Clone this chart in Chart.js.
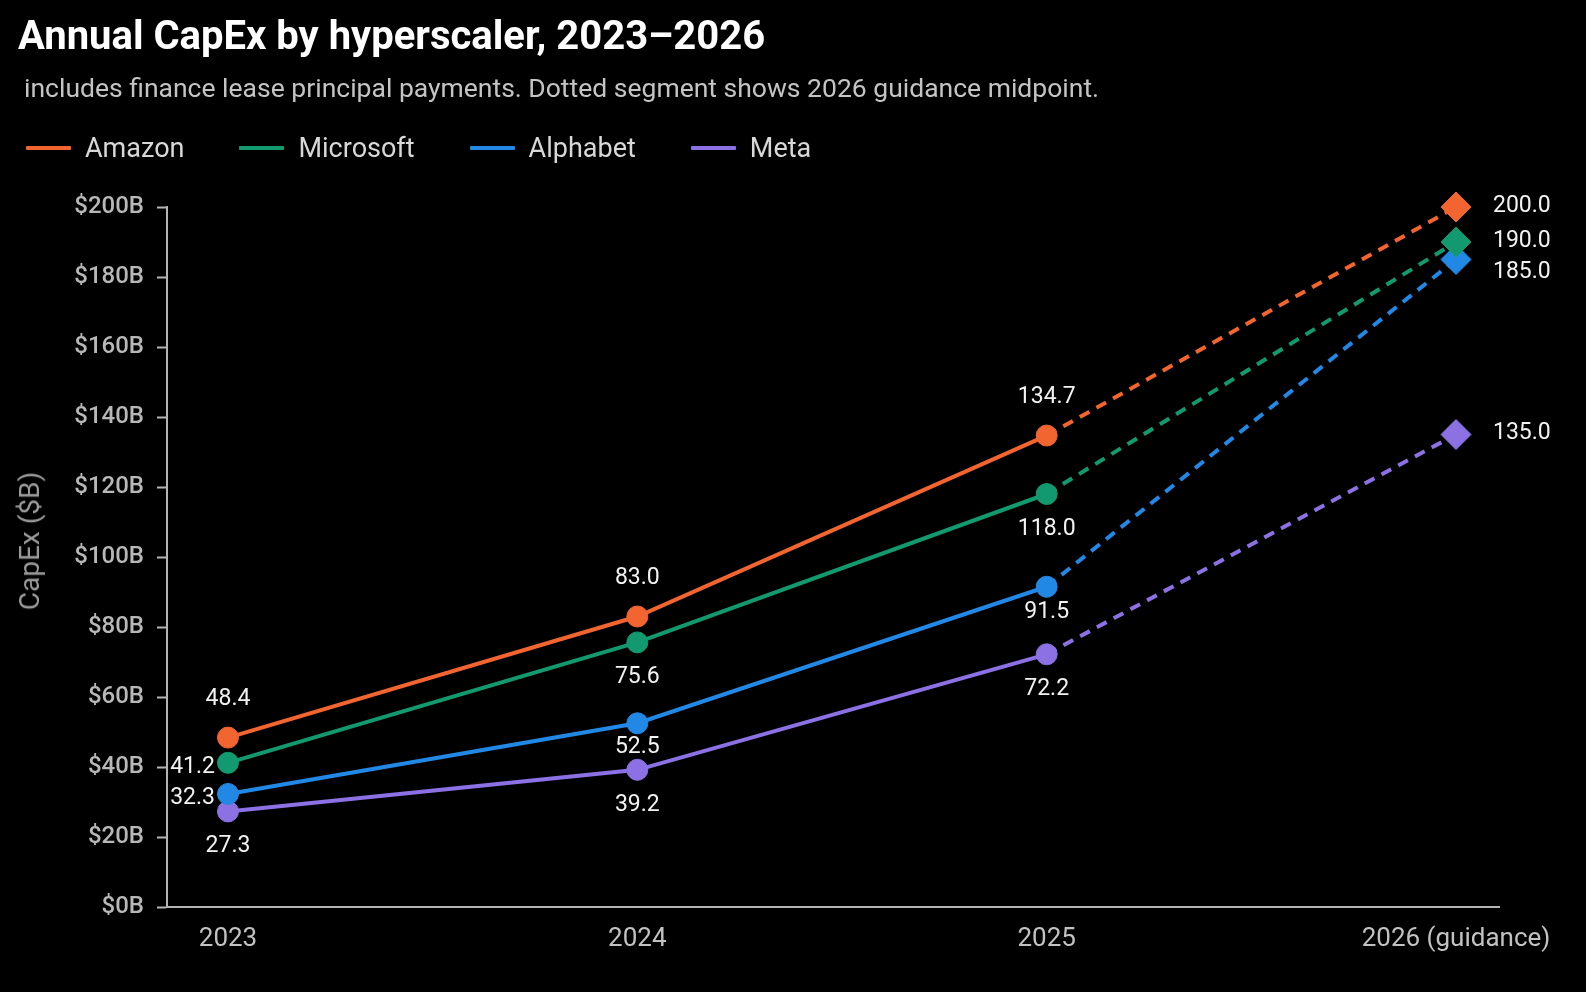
<!DOCTYPE html>
<html>
<head>
<meta charset="utf-8">
<script src="https://cdn.jsdelivr.net/npm/chart.js@4.4.1/dist/chart.umd.min.js"></script>
<style>
  html, body { margin: 0; padding: 0; background: #000; }
  #wrap { position: relative; width: 1586px; height: 992px; overflow: hidden; }
  #chart { position: absolute; left: 0; top: 0; }
  .title { position: absolute; left: 18px; top: 16px; font: bold 40px/1 Roboto, sans-serif; color: #fff; white-space: nowrap; }
  .subtitle { position: absolute; left: 24px; top: 75px; font: 26.5px/1 Roboto, sans-serif; color: #c4c4c4; white-space: nowrap; }
  .legend { position: absolute; left: 26px; top: 134px; height: 28px; display: flex; align-items: center; }
  .legend .item { display: flex; align-items: center; margin-right: 55px; }
  .legend .swatch { width: 45px; height: 4px; margin-right: 14px; border-radius: 1px; }
  .legend .text { font: 27px/1 Roboto, sans-serif; color: #d8d8d8; }
  .ytitle { position: absolute; left: 30px; top: 541px; transform: translate(-50%, -50%) rotate(-90deg);
            font: 28px/1 Roboto, sans-serif; color: #9a9a9a; white-space: nowrap; }
</style>
</head>
<body>
<div id="wrap">
  <canvas id="chart" width="1586" height="992"></canvas>
  <div class="title">Annual CapEx by hyperscaler, 2023–2026</div>
  <div class="subtitle">includes finance lease principal payments. Dotted segment shows 2026 guidance midpoint.</div>
  <div class="legend" id="legend"></div>
  <div class="ytitle">CapEx ($B)</div>
</div>
<script>
const years = ['2023', '2024', '2025', '2026 (guidance)'];
const seriesNames = ['Amazon', 'Microsoft', 'Alphabet', 'Meta'];
const amazon = [48.4, 83.0, 134.7, 200.0];
const microsoft = [41.2, 75.6, 118.0, 190.0];
const alphabet = [32.3, 52.5, 91.5, 185.0];
const meta = [27.3, 39.2, 72.2, 135.0];
const yMin = 0, yMax = 200, yStep = 20;

const colors = ['#f26430', '#12996f', '#2188e6', '#8c71e4'];
const guidanceIndex = years.length - 1;

// where each value label sits relative to its point
const labelPlacement = {
    Amazon:    [{ pos: 'above' }, { pos: 'above' }, { pos: 'above' }, { pos: 'right' }],
    Microsoft: [{ pos: 'left' }, { pos: 'below' }, { pos: 'below' }, { pos: 'right' }],
    Alphabet:  [{ pos: 'left' }, { pos: 'below', dy: 24 }, { pos: 'below', dy: 25 }, { pos: 'right', dy: 14 }],
    Meta:      [{ pos: 'below' }, { pos: 'below' }, { pos: 'below' }, { pos: 'right' }]
};

const allValues = [amazon, microsoft, alphabet, meta];

// legend
const legendEl = document.getElementById('legend');
seriesNames.forEach((name, i) => {
    const item = document.createElement('div');
    item.className = 'item';
    item.innerHTML = `<span class="swatch" style="background:${colors[i]}"></span><span class="text">${name}</span>`;
    legendEl.appendChild(item);
});

const datasets = seriesNames.map((name, i) => ({
    label: name,
    data: allValues[i].map((v, j) => ({ x: j, y: v })),
    borderColor: colors[i],
    backgroundColor: colors[i],
    pointBackgroundColor: colors[i],
    pointBorderColor: colors[i],
    borderWidth: 4,
    pointBorderWidth: 1,
    pointStyle: years.map((_, j) => j === guidanceIndex ? 'rectRot' : 'circle'),
    pointRadius: years.map((_, j) => j === guidanceIndex ? 15 : 10.5),
    pointHoverRadius: years.map((_, j) => j === guidanceIndex ? 15 : 10.5),
    segment: {
        borderDash: ctx => ctx.p1DataIndex === guidanceIndex ? [11, 8] : undefined
    },
    tension: 0,
    clip: false
}));

const valueLabels = {
    id: 'valueLabels',
    afterDatasetsDraw(chart) {
        const ctx = chart.ctx;
        ctx.save();
        ctx.font = '23px Roboto, sans-serif';
        ctx.fillStyle = '#f2f2f2';
        ctx.textBaseline = 'middle';
        chart.data.datasets.forEach((ds, i) => {
            const meta = chart.getDatasetMeta(i);
            meta.data.forEach((pt, j) => {
                const place = labelPlacement[ds.label][j];
                const text = allValues[i][j].toFixed(1);
                let x = pt.x, y = pt.y;
                if (place.pos === 'above') { ctx.textAlign = 'center'; y -= 38; }
                else if (place.pos === 'below') { ctx.textAlign = 'center'; y += (place.dy !== undefined ? place.dy : 35); }
                else if (place.pos === 'left') { ctx.textAlign = 'right'; x -= 13; y += 4; }
                else if (place.pos === 'right') { ctx.textAlign = 'left'; x += 37; y += (place.dy || 0) - 1; }
                ctx.fillText(text, x, y);
            });
        });
        ctx.restore();
    }
};

new Chart(document.getElementById('chart'), {
    type: 'line',
    data: { datasets },
    options: {
        responsive: false,
        animation: false,
        layout: { padding: { top: 207, right: 87, bottom: 0, left: 0 } },
        plugins: {
            legend: { display: false },
            tooltip: { enabled: false }
        },
        scales: {
            x: {
                type: 'linear',
                min: -0.149,
                max: 3.105,
                afterBuildTicks: scale => {
                    scale.ticks = years.map((_, i) => ({ value: i }));
                },
                afterFit: scale => { scale.height = 85; },
                grid: { display: false, drawTicks: false },
                border: { display: true, color: '#b4b4b4', width: 2 },
                ticks: {
                    color: '#c2c2c2',
                    font: { family: 'Roboto', size: 26 },
                    padding: 17,
                    maxRotation: 0,
                    autoSkip: false,
                    callback: v => years[v]
                }
            },
            y: {
                min: yMin,
                max: yMax,
                afterFit: scale => { scale.width = 167; },
                grid: { drawOnChartArea: false, drawTicks: true, tickLength: 10, tickColor: '#b4b4b4', tickWidth: 2 },
                border: { display: true, color: '#b4b4b4', width: 2 },
                ticks: {
                    stepSize: yStep,
                    color: '#b8b8b8',
                    font: { family: 'Roboto', size: 24, weight: '500' },
                    padding: 13,
                    callback: v => '$' + v + 'B'
                }
            }
        }
    },
    plugins: [valueLabels]
});
</script>
</body>
</html>
